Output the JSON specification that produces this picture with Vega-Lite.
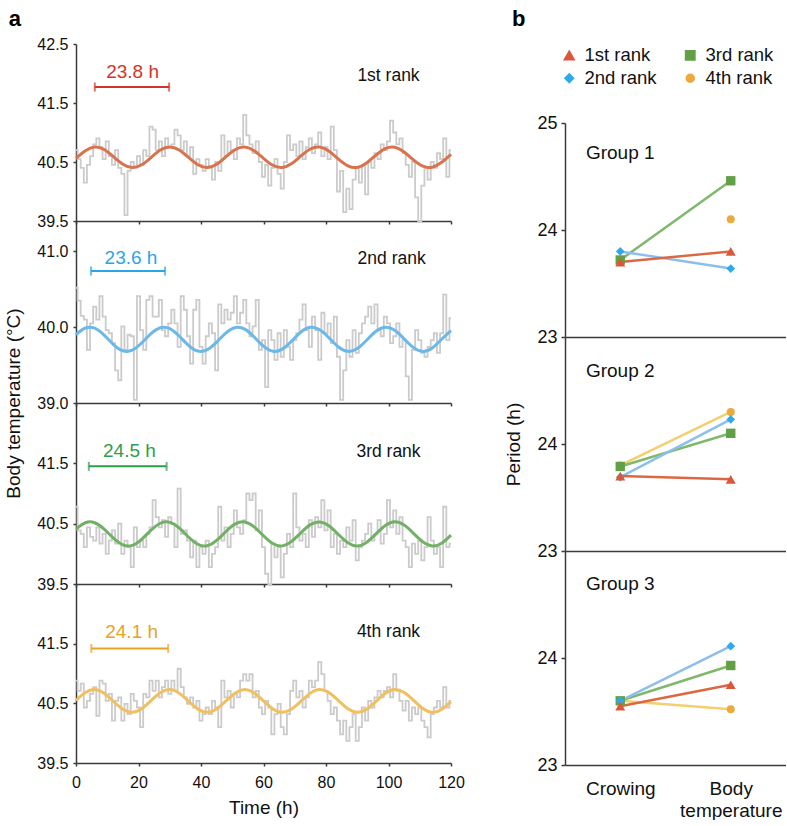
{
"$schema": "https://vega.github.io/schema/vega-lite/v6.json",
"background": "white",
"padding": {"left": 4, "top": 8, "right": 0, "bottom": 0},
"config": {
 "font": "Liberation Sans",
 "view": {"stroke": null},
 "axis": {"labelFont": "Liberation Sans", "titleFont": "Liberation Sans", "labelColor": "#111", "titleColor": "#111", "domainColor": "#3a3a3a", "tickColor": "#3a3a3a", "domainWidth": 1.5, "tickWidth": 1.5, "grid": false, "titleFontWeight": "normal", "labelFontSize": 16, "titleFontSize": 19, "labelOverlap": false},
 "title": {"font": "Liberation Sans", "color": "#000"}
},
"datasets": {
 "g1": [{"t":0,"v":40.7},{"t":1,"v":40.55},{"t":2,"v":40.4},{"t":3,"v":40.15},{"t":4,"v":40.45},{"t":5,"v":40.6},{"t":6,"v":40.8},{"t":7,"v":40.9},{"t":8,"v":40.75},{"t":9,"v":40.55},{"t":10,"v":40.85},{"t":11,"v":40.6},{"t":12,"v":40.45},{"t":13,"v":40.7},{"t":14,"v":40.4},{"t":15,"v":40.3},{"t":16,"v":39.6},{"t":17,"v":40.35},{"t":18,"v":40.5},{"t":19,"v":40.4},{"t":20,"v":40.6},{"t":21,"v":40.45},{"t":22,"v":40.7},{"t":23,"v":40.6},{"t":24,"v":41.1},{"t":25,"v":41.05},{"t":26,"v":40.7},{"t":27,"v":40.85},{"t":28,"v":40.6},{"t":29,"v":40.9},{"t":30,"v":40.75},{"t":31,"v":40.8},{"t":32,"v":41.05},{"t":33,"v":40.95},{"t":34,"v":40.7},{"t":35,"v":40.85},{"t":36,"v":40.6},{"t":37,"v":40.75},{"t":38,"v":40.3},{"t":39,"v":40.55},{"t":40,"v":40.45},{"t":41,"v":40.35},{"t":42,"v":40.55},{"t":43,"v":40.4},{"t":44,"v":40.2},{"t":45,"v":40.5},{"t":46,"v":40.35},{"t":47,"v":40.95},{"t":48,"v":40.6},{"t":49,"v":40.85},{"t":50,"v":40.7},{"t":51,"v":40.55},{"t":52,"v":40.9},{"t":53,"v":40.8},{"t":54,"v":41.3},{"t":55,"v":40.95},{"t":56,"v":40.8},{"t":57,"v":40.65},{"t":58,"v":40.85},{"t":59,"v":40.5},{"t":60,"v":40.25},{"t":61,"v":40.45},{"t":62,"v":40.1},{"t":63,"v":40.4},{"t":64,"v":40.55},{"t":65,"v":40.3},{"t":66,"v":40.05},{"t":67,"v":40.5},{"t":68,"v":40.95},{"t":69,"v":40.7},{"t":70,"v":40.8},{"t":71,"v":40.6},{"t":72,"v":40.85},{"t":73,"v":40.55},{"t":74,"v":40.75},{"t":75,"v":40.9},{"t":76,"v":40.65},{"t":77,"v":40.8},{"t":78,"v":41.0},{"t":79,"v":40.6},{"t":80,"v":40.75},{"t":81,"v":40.55},{"t":82,"v":41.1},{"t":83,"v":40.7},{"t":84,"v":40.0},{"t":85,"v":40.35},{"t":86,"v":39.65},{"t":87,"v":40.05},{"t":88,"v":39.7},{"t":89,"v":40.2},{"t":90,"v":40.4},{"t":91,"v":40.15},{"t":92,"v":40.45},{"t":93,"v":39.95},{"t":94,"v":40.5},{"t":95,"v":40.4},{"t":96,"v":40.65},{"t":97,"v":40.55},{"t":98,"v":40.8},{"t":99,"v":40.7},{"t":100,"v":40.85},{"t":101,"v":41.2},{"t":102,"v":41.0},{"t":103,"v":40.8},{"t":104,"v":40.9},{"t":105,"v":40.65},{"t":106,"v":40.45},{"t":107,"v":40.25},{"t":108,"v":40.5},{"t":109,"v":39.9},{"t":110,"v":39.5},{"t":111,"v":40.1},{"t":112,"v":40.4},{"t":113,"v":40.2},{"t":114,"v":40.5},{"t":115,"v":40.4},{"t":116,"v":40.65},{"t":117,"v":40.55},{"t":118,"v":40.9},{"t":119,"v":40.25},{"t":120,"v":40.7}],
 "g2": [{"t":0,"v":40.52},{"t":1,"v":40.35},{"t":2,"v":40.15},{"t":3,"v":40.1},{"t":4,"v":39.7},{"t":5,"v":40.05},{"t":6,"v":40.27},{"t":7,"v":40.1},{"t":8,"v":40.41},{"t":9,"v":40.14},{"t":10,"v":39.96},{"t":11,"v":39.92},{"t":12,"v":39.79},{"t":13,"v":39.43},{"t":14,"v":39.3},{"t":15,"v":40.01},{"t":16,"v":39.7},{"t":17,"v":39.9},{"t":18,"v":39.88},{"t":19,"v":39.04},{"t":20,"v":40.41},{"t":21,"v":39.96},{"t":22,"v":39.7},{"t":23,"v":40.36},{"t":24,"v":40.41},{"t":25,"v":40.14},{"t":26,"v":40.14},{"t":27,"v":40.36},{"t":28,"v":39.96},{"t":29,"v":39.88},{"t":30,"v":40.05},{"t":31,"v":40.23},{"t":32,"v":40.05},{"t":33,"v":39.74},{"t":34,"v":40.41},{"t":35,"v":40.23},{"t":36,"v":39.88},{"t":37,"v":39.52},{"t":38,"v":40.23},{"t":39,"v":40.36},{"t":40,"v":39.74},{"t":41,"v":39.52},{"t":42,"v":39.88},{"t":43,"v":40.05},{"t":44,"v":39.92},{"t":45,"v":39.43},{"t":46,"v":40.3},{"t":47,"v":40.05},{"t":48,"v":40.23},{"t":49,"v":40.1},{"t":50,"v":40.19},{"t":51,"v":40.41},{"t":52,"v":40.05},{"t":53,"v":40.19},{"t":54,"v":40.36},{"t":55,"v":40.05},{"t":56,"v":39.88},{"t":57,"v":40.01},{"t":58,"v":40.36},{"t":59,"v":39.7},{"t":60,"v":39.83},{"t":61,"v":39.21},{"t":62,"v":39.96},{"t":63,"v":39.83},{"t":64,"v":39.57},{"t":65,"v":39.92},{"t":66,"v":39.61},{"t":67,"v":39.96},{"t":68,"v":39.74},{"t":69,"v":39.57},{"t":70,"v":39.83},{"t":71,"v":39.92},{"t":72,"v":40.1},{"t":73,"v":40.3},{"t":74,"v":39.96},{"t":75,"v":39.74},{"t":76,"v":40.14},{"t":77,"v":39.96},{"t":78,"v":39.57},{"t":79,"v":40.19},{"t":80,"v":39.92},{"t":81,"v":40.05},{"t":82,"v":39.79},{"t":83,"v":40.14},{"t":84,"v":39.61},{"t":85,"v":39.04},{"t":86,"v":39.43},{"t":87,"v":39.83},{"t":88,"v":39.61},{"t":89,"v":39.96},{"t":90,"v":39.66},{"t":91,"v":39.92},{"t":92,"v":40.05},{"t":93,"v":40.14},{"t":94,"v":40.27},{"t":95,"v":40.05},{"t":96,"v":40.3},{"t":97,"v":39.96},{"t":98,"v":39.88},{"t":99,"v":40.14},{"t":100,"v":40.05},{"t":101,"v":39.79},{"t":102,"v":39.88},{"t":103,"v":40.05},{"t":104,"v":39.74},{"t":105,"v":39.83},{"t":106,"v":39.35},{"t":107,"v":39.04},{"t":108,"v":39.7},{"t":109,"v":39.96},{"t":110,"v":39.83},{"t":111,"v":39.66},{"t":112,"v":39.61},{"t":113,"v":39.74},{"t":114,"v":39.83},{"t":115,"v":39.92},{"t":116,"v":39.66},{"t":117,"v":39.92},{"t":118,"v":40.43},{"t":119,"v":39.83},{"t":120,"v":40.12}],
 "g3": [{"t":0,"v":40.78},{"t":1,"v":40.39},{"t":2,"v":40.33},{"t":3,"v":40.11},{"t":4,"v":40.44},{"t":5,"v":40.28},{"t":6,"v":40.22},{"t":7,"v":40.44},{"t":8,"v":40.17},{"t":9,"v":40.33},{"t":10,"v":40.0},{"t":11,"v":40.22},{"t":12,"v":40.39},{"t":13,"v":40.17},{"t":14,"v":40.5},{"t":15,"v":40.0},{"t":16,"v":40.22},{"t":17,"v":40.11},{"t":18,"v":39.78},{"t":19,"v":40.44},{"t":20,"v":40.11},{"t":21,"v":40.22},{"t":22,"v":40.11},{"t":23,"v":40.33},{"t":24,"v":40.44},{"t":25,"v":40.89},{"t":26,"v":40.61},{"t":27,"v":40.44},{"t":28,"v":40.56},{"t":29,"v":40.28},{"t":30,"v":40.61},{"t":31,"v":40.5},{"t":32,"v":40.11},{"t":33,"v":41.08},{"t":34,"v":40.33},{"t":35,"v":40.39},{"t":36,"v":40.22},{"t":37,"v":39.94},{"t":38,"v":40.22},{"t":39,"v":39.78},{"t":40,"v":40.11},{"t":41,"v":40.0},{"t":42,"v":40.22},{"t":43,"v":39.78},{"t":44,"v":40.0},{"t":45,"v":40.11},{"t":46,"v":40.78},{"t":47,"v":40.22},{"t":48,"v":40.44},{"t":49,"v":40.11},{"t":50,"v":40.33},{"t":51,"v":40.72},{"t":52,"v":40.44},{"t":53,"v":40.33},{"t":54,"v":40.56},{"t":55,"v":41.0},{"t":56,"v":40.89},{"t":57,"v":41.0},{"t":58,"v":40.39},{"t":59,"v":40.72},{"t":60,"v":40.11},{"t":61,"v":39.67},{"t":62,"v":39.5},{"t":63,"v":40.17},{"t":64,"v":39.94},{"t":65,"v":40.11},{"t":66,"v":39.61},{"t":67,"v":40.0},{"t":68,"v":40.33},{"t":69,"v":40.11},{"t":70,"v":41.0},{"t":71,"v":40.44},{"t":72,"v":40.22},{"t":73,"v":40.33},{"t":74,"v":40.11},{"t":75,"v":40.56},{"t":76,"v":40.28},{"t":77,"v":40.61},{"t":78,"v":40.44},{"t":79,"v":40.89},{"t":80,"v":40.39},{"t":81,"v":40.72},{"t":82,"v":40.11},{"t":83,"v":40.33},{"t":84,"v":40.0},{"t":85,"v":40.22},{"t":86,"v":40.11},{"t":87,"v":40.44},{"t":88,"v":40.22},{"t":89,"v":40.56},{"t":90,"v":39.89},{"t":91,"v":40.11},{"t":92,"v":40.22},{"t":93,"v":40.33},{"t":94,"v":40.5},{"t":95,"v":40.22},{"t":96,"v":40.33},{"t":97,"v":40.56},{"t":98,"v":40.17},{"t":99,"v":40.33},{"t":100,"v":40.89},{"t":101,"v":40.44},{"t":102,"v":40.72},{"t":103,"v":40.33},{"t":104,"v":40.61},{"t":105,"v":40.22},{"t":106,"v":40.11},{"t":107,"v":39.78},{"t":108,"v":40.17},{"t":109,"v":40.0},{"t":110,"v":40.22},{"t":111,"v":39.89},{"t":112,"v":40.11},{"t":113,"v":40.61},{"t":114,"v":40.22},{"t":115,"v":40.0},{"t":116,"v":40.11},{"t":117,"v":39.78},{"t":118,"v":40.78},{"t":119,"v":40.11},{"t":120,"v":40.17}],
 "g4": [{"t":0,"v":40.88},{"t":1,"v":40.71},{"t":2,"v":40.83},{"t":3,"v":40.43},{"t":4,"v":40.54},{"t":5,"v":40.66},{"t":6,"v":40.77},{"t":7,"v":40.29},{"t":8,"v":40.88},{"t":9,"v":40.83},{"t":10,"v":40.54},{"t":11,"v":40.66},{"t":12,"v":40.21},{"t":13,"v":40.54},{"t":14,"v":40.6},{"t":15,"v":40.21},{"t":16,"v":40.49},{"t":17,"v":40.32},{"t":18,"v":40.66},{"t":19,"v":40.54},{"t":20,"v":40.43},{"t":21,"v":40.1},{"t":22,"v":40.66},{"t":23,"v":40.6},{"t":24,"v":40.88},{"t":25,"v":40.71},{"t":26,"v":40.88},{"t":27,"v":40.6},{"t":28,"v":40.77},{"t":29,"v":40.88},{"t":30,"v":40.66},{"t":31,"v":40.88},{"t":32,"v":40.71},{"t":33,"v":41.08},{"t":34,"v":40.77},{"t":35,"v":40.6},{"t":36,"v":40.49},{"t":37,"v":40.6},{"t":38,"v":40.43},{"t":39,"v":40.54},{"t":40,"v":40.21},{"t":41,"v":40.32},{"t":42,"v":40.43},{"t":43,"v":40.32},{"t":44,"v":40.54},{"t":45,"v":40.43},{"t":46,"v":40.1},{"t":47,"v":40.88},{"t":48,"v":40.6},{"t":49,"v":40.71},{"t":50,"v":40.43},{"t":51,"v":40.66},{"t":52,"v":40.6},{"t":53,"v":40.88},{"t":54,"v":40.99},{"t":55,"v":40.88},{"t":56,"v":40.99},{"t":57,"v":40.6},{"t":58,"v":40.71},{"t":59,"v":40.43},{"t":60,"v":40.32},{"t":61,"v":40.54},{"t":62,"v":40.43},{"t":63,"v":39.98},{"t":64,"v":40.32},{"t":65,"v":40.49},{"t":66,"v":40.1},{"t":67,"v":39.98},{"t":68,"v":40.32},{"t":69,"v":40.71},{"t":70,"v":40.88},{"t":71,"v":40.6},{"t":72,"v":40.71},{"t":73,"v":40.43},{"t":74,"v":40.6},{"t":75,"v":40.88},{"t":76,"v":40.77},{"t":77,"v":40.88},{"t":78,"v":41.19},{"t":79,"v":40.99},{"t":80,"v":40.71},{"t":81,"v":40.54},{"t":82,"v":40.32},{"t":83,"v":40.43},{"t":84,"v":40.21},{"t":85,"v":39.98},{"t":86,"v":40.21},{"t":87,"v":39.87},{"t":88,"v":40.1},{"t":89,"v":40.32},{"t":90,"v":39.87},{"t":91,"v":40.1},{"t":92,"v":40.43},{"t":93,"v":40.21},{"t":94,"v":40.54},{"t":95,"v":40.43},{"t":96,"v":40.6},{"t":97,"v":40.71},{"t":98,"v":40.6},{"t":99,"v":40.71},{"t":100,"v":40.77},{"t":101,"v":40.6},{"t":102,"v":40.99},{"t":103,"v":40.71},{"t":104,"v":40.54},{"t":105,"v":40.38},{"t":106,"v":40.54},{"t":107,"v":40.21},{"t":108,"v":40.43},{"t":109,"v":40.32},{"t":110,"v":40.43},{"t":111,"v":40.21},{"t":112,"v":40.1},{"t":113,"v":39.93},{"t":114,"v":40.32},{"t":115,"v":40.43},{"t":116,"v":40.54},{"t":117,"v":40.43},{"t":118,"v":40.77},{"t":119,"v":40.43},{"t":120,"v":40.54}],
 "s1": [{"t":0,"v":40.563},{"t":3,"v":40.692},{"t":6,"v":40.754},{"t":9,"v":40.712},{"t":12,"v":40.59},{"t":15,"v":40.463},{"t":18,"v":40.405},{"t":21,"v":40.453},{"t":24,"v":40.576},{"t":27,"v":40.702},{"t":30,"v":40.755},{"t":33,"v":40.703},{"t":36,"v":40.577},{"t":39,"v":40.453},{"t":42,"v":40.405},{"t":45,"v":40.462},{"t":48,"v":40.59},{"t":51,"v":40.712},{"t":54,"v":40.754},{"t":57,"v":40.692},{"t":60,"v":40.563},{"t":63,"v":40.444},{"t":66,"v":40.406},{"t":69,"v":40.473},{"t":72,"v":40.604},{"t":75,"v":40.721},{"t":78,"v":40.753},{"t":81,"v":40.681},{"t":84,"v":40.549},{"t":87,"v":40.435},{"t":90,"v":40.408},{"t":93,"v":40.484},{"t":96,"v":40.618},{"t":99,"v":40.728},{"t":102,"v":40.75},{"t":105,"v":40.67},{"t":108,"v":40.536},{"t":111,"v":40.428},{"t":114,"v":40.412},{"t":117,"v":40.496},{"t":120,"v":40.631}],
 "s2": [{"t":0,"v":39.903},{"t":3,"v":39.989},{"t":6,"v":39.986},{"t":9,"v":39.895},{"t":12,"v":39.771},{"t":15,"v":39.689},{"t":18,"v":39.697},{"t":21,"v":39.791},{"t":24,"v":39.914},{"t":27,"v":39.993},{"t":30,"v":39.98},{"t":33,"v":39.883},{"t":36,"v":39.76},{"t":39,"v":39.685},{"t":42,"v":39.703},{"t":45,"v":39.803},{"t":48,"v":39.925},{"t":51,"v":39.996},{"t":54,"v":39.974},{"t":57,"v":39.871},{"t":60,"v":39.749},{"t":63,"v":39.682},{"t":66,"v":39.71},{"t":69,"v":39.816},{"t":72,"v":39.936},{"t":75,"v":39.999},{"t":78,"v":39.966},{"t":81,"v":39.858},{"t":84,"v":39.739},{"t":87,"v":39.681},{"t":90,"v":39.718},{"t":93,"v":39.828},{"t":96,"v":39.946},{"t":99,"v":40.0},{"t":102,"v":39.958},{"t":105,"v":39.846},{"t":108,"v":39.73},{"t":111,"v":39.68},{"t":114,"v":39.726},{"t":117,"v":39.841},{"t":120,"v":39.955}],
 "s3": [{"t":0,"v":40.41},{"t":3,"v":40.515},{"t":6,"v":40.515},{"t":9,"v":40.41},{"t":12,"v":40.26},{"t":15,"v":40.149},{"t":18,"v":40.141},{"t":21,"v":40.241},{"t":24,"v":40.391},{"t":27,"v":40.507},{"t":30,"v":40.522},{"t":33,"v":40.429},{"t":36,"v":40.279},{"t":39,"v":40.159},{"t":42,"v":40.135},{"t":45,"v":40.222},{"t":48,"v":40.371},{"t":51,"v":40.496},{"t":54,"v":40.527},{"t":57,"v":40.446},{"t":60,"v":40.299},{"t":63,"v":40.17},{"t":66,"v":40.132},{"t":69,"v":40.206},{"t":72,"v":40.35},{"t":75,"v":40.484},{"t":78,"v":40.529},{"t":81,"v":40.462},{"t":84,"v":40.32},{"t":87,"v":40.184},{"t":90,"v":40.13},{"t":93,"v":40.19},{"t":96,"v":40.33},{"t":99,"v":40.469},{"t":102,"v":40.53},{"t":105,"v":40.477},{"t":108,"v":40.34},{"t":111,"v":40.198},{"t":114,"v":40.131},{"t":117,"v":40.176},{"t":120,"v":40.309}],
 "s4": [{"t":0,"v":40.551},{"t":3,"v":40.682},{"t":6,"v":40.73},{"t":9,"v":40.668},{"t":12,"v":40.531},{"t":15,"v":40.4},{"t":18,"v":40.35},{"t":21,"v":40.411},{"t":24,"v":40.546},{"t":27,"v":40.678},{"t":30,"v":40.73},{"t":33,"v":40.671},{"t":36,"v":40.536},{"t":39,"v":40.403},{"t":42,"v":40.35},{"t":45,"v":40.407},{"t":48,"v":40.541},{"t":51,"v":40.675},{"t":54,"v":40.73},{"t":57,"v":40.675},{"t":60,"v":40.541},{"t":63,"v":40.407},{"t":66,"v":40.35},{"t":69,"v":40.404},{"t":72,"v":40.537},{"t":75,"v":40.671},{"t":78,"v":40.73},{"t":81,"v":40.678},{"t":84,"v":40.546},{"t":87,"v":40.41},{"t":90,"v":40.35},{"t":93,"v":40.4},{"t":96,"v":40.532},{"t":99,"v":40.668},{"t":102,"v":40.73},{"t":105,"v":40.681},{"t":108,"v":40.551},{"t":111,"v":40.414},{"t":114,"v":40.35},{"t":117,"v":40.397},{"t":120,"v":40.527}],
 "periods": [
  {"g":"Group 1","rank":"4th rank","m":"Body temperature","p":24.10},
  {"g":"Group 1","rank":"3rd rank","m":"Crowing","p":23.72},{"g":"Group 1","rank":"3rd rank","m":"Body temperature","p":24.46},
  {"g":"Group 1","rank":"2nd rank","m":"Crowing","p":23.80},{"g":"Group 1","rank":"2nd rank","m":"Body temperature","p":23.64},
  {"g":"Group 1","rank":"1st rank","m":"Crowing","p":23.70},{"g":"Group 1","rank":"1st rank","m":"Body temperature","p":23.80},
  {"g":"Group 2","rank":"4th rank","m":"Crowing","p":23.80},{"g":"Group 2","rank":"4th rank","m":"Body temperature","p":24.30},
  {"g":"Group 2","rank":"3rd rank","m":"Crowing","p":23.79},{"g":"Group 2","rank":"3rd rank","m":"Body temperature","p":24.10},
  {"g":"Group 2","rank":"2nd rank","m":"Crowing","p":23.69},{"g":"Group 2","rank":"2nd rank","m":"Body temperature","p":24.23},
  {"g":"Group 2","rank":"1st rank","m":"Crowing","p":23.70},{"g":"Group 2","rank":"1st rank","m":"Body temperature","p":23.67},
  {"g":"Group 3","rank":"4th rank","m":"Crowing","p":23.60},{"g":"Group 3","rank":"4th rank","m":"Body temperature","p":23.52},
  {"g":"Group 3","rank":"3rd rank","m":"Crowing","p":23.60},{"g":"Group 3","rank":"3rd rank","m":"Body temperature","p":23.93},
  {"g":"Group 3","rank":"2nd rank","m":"Crowing","p":23.60},{"g":"Group 3","rank":"2nd rank","m":"Body temperature","p":24.11},
  {"g":"Group 3","rank":"1st rank","m":"Crowing","p":23.55},{"g":"Group 3","rank":"1st rank","m":"Body temperature","p":23.75}
 ]
},
"spacing": 39,
"hconcat": [
 {
  "title": {"text": "a", "anchor": "start", "frame": "bounds", "fontSize": 22, "fontWeight": "bold", "offset": 5, "dx": 4},
  "bounds": "flush",
  "spacing": 0,
  "vconcat": [
   {
    "width": 375, "height": 177,
    "layer": [
     {"data": {"name": "g1"}, "mark": {"type": "line", "color": "#cbcbcb", "strokeWidth": 1.8, "interpolate": "step"},
      "encoding": {
       "x": {"field": "t", "type": "quantitative", "scale": {"domain": [0, 120], "nice": false}, "axis": {"values": [0, 20, 40, 60, 80, 100, 120], "labels": false, "tickSize": 3, "title": null}},
       "y": {"field": "v", "type": "quantitative", "scale": {"domain": [39.5, 42.5], "nice": false, "zero": false}, "axis": {"values": [39.5, 40.5, 41.5, 42.5], "format": ".1f", "tickSize": 3, "labelPadding": 5, "title": null}}}},
     {"data": {"name": "s1"}, "mark": {"type": "line", "color": "#d9734e", "strokeWidth": 3, "interpolate": "natural"},
      "encoding": {"x": {"field": "t", "type": "quantitative"}, "y": {"field": "v", "type": "quantitative"}}},
     {"data": {"values": [{"t": 6.0, "t2": 29.8, "v": 41.77}]}, "mark": {"type": "errorbar", "ticks": true, "color": "#d2342a", "thickness": 2, "size": 9},
      "encoding": {"x": {"field": "t", "type": "quantitative", "title": null}, "x2": {"field": "t2"}, "y": {"field": "v", "type": "quantitative", "title": null}}},
     {"data": {"values": [{"t": 18.1, "v": 42.02, "label": "23.8 h"}]}, "mark": {"type": "text", "color": "#d2342a", "fontSize": 19, "align": "center", "baseline": "middle"},
      "encoding": {"x": {"field": "t", "type": "quantitative"}, "y": {"field": "v", "type": "quantitative"}, "text": {"field": "label"}}},
     {"data": {"values": [{"t": 100, "v": 41.96, "label": "1st rank"}]}, "mark": {"type": "text", "color": "#111", "fontSize": 17.5, "align": "center", "baseline": "middle"},
      "encoding": {"x": {"field": "t", "type": "quantitative"}, "y": {"field": "v", "type": "quantitative"}, "text": {"field": "label"}}}
    ]
   },
   {
    "width": 375, "height": 182,
    "layer": [
     {"data": {"name": "g2"}, "mark": {"type": "line", "color": "#cbcbcb", "strokeWidth": 1.8, "interpolate": "step"},
      "encoding": {
       "x": {"field": "t", "type": "quantitative", "scale": {"domain": [0, 120], "nice": false}, "axis": {"values": [0, 20, 40, 60, 80, 100, 120], "labels": false, "tickSize": 3, "title": null}},
       "y": {"field": "v", "type": "quantitative", "scale": {"domain": [39.0, 41.4], "nice": false, "zero": false}, "axis": {"values": [39, 40, 41], "format": ".1f", "tickSize": 3, "labelPadding": 5, "title": "Body temperature (°C)", "titleY": 182, "titlePadding": 13}}}},
     {"data": {"name": "s2"}, "mark": {"type": "line", "color": "#6cb8e8", "strokeWidth": 3, "interpolate": "natural"},
      "encoding": {"x": {"field": "t", "type": "quantitative"}, "y": {"field": "v", "type": "quantitative"}}},
     {"data": {"values": [{"t": 4.8, "t2": 28.5, "v": 40.74}]}, "mark": {"type": "errorbar", "ticks": true, "color": "#2aa6e6", "thickness": 2, "size": 9},
      "encoding": {"x": {"field": "t", "type": "quantitative", "title": null}, "x2": {"field": "t2"}, "y": {"field": "v", "type": "quantitative", "title": "Body temperature (°C)"}}},
     {"data": {"values": [{"t": 17.6, "v": 40.91, "label": "23.6 h"}]}, "mark": {"type": "text", "color": "#2aa6e6", "fontSize": 19, "align": "center", "baseline": "middle"},
      "encoding": {"x": {"field": "t", "type": "quantitative"}, "y": {"field": "v", "type": "quantitative"}, "text": {"field": "label"}}},
     {"data": {"values": [{"t": 101, "v": 40.9, "label": "2nd rank"}]}, "mark": {"type": "text", "color": "#111", "fontSize": 17.5, "align": "center", "baseline": "middle"},
      "encoding": {"x": {"field": "t", "type": "quantitative"}, "y": {"field": "v", "type": "quantitative"}, "text": {"field": "label"}}}
    ]
   },
   {
    "width": 375, "height": 181,
    "layer": [
     {"data": {"name": "g3"}, "mark": {"type": "line", "color": "#cbcbcb", "strokeWidth": 1.8, "interpolate": "step"},
      "encoding": {
       "x": {"field": "t", "type": "quantitative", "scale": {"domain": [0, 120], "nice": false}, "axis": {"values": [0, 20, 40, 60, 80, 100, 120], "labels": false, "tickSize": 3, "title": null}},
       "y": {"field": "v", "type": "quantitative", "scale": {"domain": [39.5, 42.5], "nice": false, "zero": false}, "axis": {"values": [39.5, 40.5, 41.5], "format": ".1f", "tickSize": 3, "labelPadding": 5, "title": null}}}},
     {"data": {"name": "s3"}, "mark": {"type": "line", "color": "#72b066", "strokeWidth": 3, "interpolate": "natural"},
      "encoding": {"x": {"field": "t", "type": "quantitative"}, "y": {"field": "v", "type": "quantitative"}}},
     {"data": {"values": [{"t": 4.1, "t2": 29.0, "v": 41.45}]}, "mark": {"type": "errorbar", "ticks": true, "color": "#2f9e4a", "thickness": 2, "size": 9},
      "encoding": {"x": {"field": "t", "type": "quantitative", "title": null}, "x2": {"field": "t2"}, "y": {"field": "v", "type": "quantitative", "title": null}}},
     {"data": {"values": [{"t": 17.1, "v": 41.7, "label": "24.5 h"}]}, "mark": {"type": "text", "color": "#2f9e4a", "fontSize": 19, "align": "center", "baseline": "middle"},
      "encoding": {"x": {"field": "t", "type": "quantitative"}, "y": {"field": "v", "type": "quantitative"}, "text": {"field": "label"}}},
     {"data": {"values": [{"t": 100, "v": 41.69, "label": "3rd rank"}]}, "mark": {"type": "text", "color": "#111", "fontSize": 17.5, "align": "center", "baseline": "middle"},
      "encoding": {"x": {"field": "t", "type": "quantitative"}, "y": {"field": "v", "type": "quantitative"}, "text": {"field": "label"}}}
    ]
   },
   {
    "width": 375, "height": 179,
    "layer": [
     {"data": {"name": "g4"}, "mark": {"type": "line", "color": "#cbcbcb", "strokeWidth": 1.8, "interpolate": "step"},
      "encoding": {
       "x": {"field": "t", "type": "quantitative", "scale": {"domain": [0, 120], "nice": false}, "axis": {"values": [0, 20, 40, 60, 80, 100, 120], "tickSize": 3, "labelPadding": 8, "labelFlush": false, "title": "Time (h)", "titlePadding": 8}},
       "y": {"field": "v", "type": "quantitative", "scale": {"domain": [39.5, 42.5], "nice": false, "zero": false}, "axis": {"values": [39.5, 40.5, 41.5], "format": ".1f", "tickSize": 3, "labelPadding": 5, "title": null}}}},
     {"data": {"name": "s4"}, "mark": {"type": "line", "color": "#f0c060", "strokeWidth": 3, "interpolate": "natural"},
      "encoding": {"x": {"field": "t", "type": "quantitative", "title": "Time (h)"}, "y": {"field": "v", "type": "quantitative"}}},
     {"data": {"values": [{"t": 4.9, "t2": 29.5, "v": 41.42}]}, "mark": {"type": "errorbar", "ticks": true, "color": "#e8a324", "thickness": 2, "size": 9},
      "encoding": {"x": {"field": "t", "type": "quantitative", "title": "Time (h)"}, "x2": {"field": "t2"}, "y": {"field": "v", "type": "quantitative", "title": null}}},
     {"data": {"values": [{"t": 17.8, "v": 41.7, "label": "24.1 h"}]}, "mark": {"type": "text", "color": "#e8a324", "fontSize": 19, "align": "center", "baseline": "middle"},
      "encoding": {"x": {"field": "t", "type": "quantitative", "title": "Time (h)"}, "y": {"field": "v", "type": "quantitative"}, "text": {"field": "label"}}},
     {"data": {"values": [{"t": 100, "v": 41.69, "label": "4th rank"}]}, "mark": {"type": "text", "color": "#111", "fontSize": 17.5, "align": "center", "baseline": "middle"},
      "encoding": {"x": {"field": "t", "type": "quantitative", "title": "Time (h)"}, "y": {"field": "v", "type": "quantitative"}, "text": {"field": "label"}}}
    ]
   }
  ]
 },
 {
  "title": {"text": "b", "anchor": "start", "frame": "bounds", "fontSize": 22, "fontWeight": "bold", "offset": 13, "dx": 7},
  "bounds": "flush",
  "spacing": 0,
  "vconcat": [
   {
    "width": 221, "height": 79,
    "data": {"name": "periods"},
    "mark": {"type": "point", "opacity": 0},
    "encoding": {
     "x": {"field": "m", "type": "nominal", "axis": null},
     "y": {"field": "p", "type": "quantitative", "axis": null},
     "color": {"field": "rank", "type": "nominal", "scale": {"domain": ["1st rank", "3rd rank", "2nd rank", "4th rank"], "range": ["#d9583b", "#62a046", "#2fa9ea", "#eaaa3c"]},
      "legend": {"orient": "none", "legendX": 484, "legendY": 2, "columns": 2, "direction": "horizontal", "columnPadding": 24, "rowPadding": 4, "symbolSize": 400, "labelFontSize": 18.5, "labelOffset": 6, "title": null, "labelColor": "#111",
       "encode": {"symbols": {"update": {
        "shape": {"signal": "datum.value == '1st rank' ? 'M-1,-0.1H1V0.1H-1ZM0,-0.45L0.5,0.4L-0.5,0.4Z' : datum.value == '2nd rank' ? 'M-1,-0.1H1V0.1H-1ZM0,-0.5L0.45,0L0,0.5L-0.45,0Z' : datum.value == '3rd rank' ? 'M-1,-0.1H1V0.1H-1ZM-0.38,-0.38H0.38V0.38H-0.38Z' : 'M-1,-0.1H1V0.1H-1ZM-0.4,0A0.4,0.4,0,1,1,0.4,0A0.4,0.4,0,1,1,-0.4,0Z'"},
        "size": {"value": 400},
        "fill": {"signal": "datum.value == '1st rank' ? '#d9583b' : datum.value == '2nd rank' ? '#2fa9ea' : datum.value == '3rd rank' ? '#62a046' : '#eaaa3c'"},
        "opacity": {"value": 1}}}}}}
    }
   },
   {
    "width": 221, "height": 214,
    "layer": [
     {"data": {"name": "periods"}, "transform": [{"filter": "datum.g == 'Group 1'"}], "mark": {"type": "line", "strokeWidth": 2.5},
      "encoding": {
       "x": {"field": "m", "type": "nominal", "scale": {"type": "point", "padding": 0.5, "domain": ["Crowing", "Body temperature"]}, "axis": {"labels": false, "ticks": false, "title": null}},
       "y": {"field": "p", "type": "quantitative", "scale": {"domain": [23, 25], "nice": false, "zero": false}, "axis": {"values": [23, 24, 25], "format": ".0f", "labelOverlap": false, "tickSize": 4, "labelPadding": 4, "labelFontSize": 18, "title": null}},
       "detail": {"field": "rank", "type": "nominal"},
       "stroke": {"field": "rank", "type": "nominal", "scale": {"domain": ["1st rank", "3rd rank", "2nd rank", "4th rank"], "range": ["#dc6843", "#80b86c", "#8cbfec", "#f3cf70"]}, "legend": null}}},
     {"data": {"name": "periods"}, "transform": [{"filter": "datum.g == 'Group 1'"}], "mark": {"type": "point", "filled": true, "opacity": 1},
      "encoding": {
       "x": {"field": "m", "type": "nominal"},
       "y": {"field": "p", "type": "quantitative"},
       "color": {"field": "rank", "type": "nominal"},
       "shape": {"field": "rank", "type": "nominal", "scale": {"domain": ["1st rank", "3rd rank", "2nd rank", "4th rank"], "range": ["triangle-up", "square", "diamond", "circle"]}, "legend": null},
       "size": {"field": "rank", "type": "nominal", "scale": {"domain": ["1st rank", "3rd rank", "2nd rank", "4th rank"], "range": [100, 64, 100, 55]}, "legend": null}}},
     {"data": {"values": [{"m": "Crowing", "p": 24.72, "label": "Group 1"}]}, "mark": {"type": "text", "fontSize": 19, "align": "center", "baseline": "middle", "color": "#111"},
      "encoding": {"x": {"field": "m", "type": "nominal"}, "y": {"field": "p", "type": "quantitative"}, "text": {"field": "label"}}}
    ]
   },
   {
    "width": 221, "height": 214,
    "layer": [
     {"data": {"name": "periods"}, "transform": [{"filter": "datum.g == 'Group 2'"}], "mark": {"type": "line", "strokeWidth": 2.5},
      "encoding": {
       "x": {"field": "m", "type": "nominal", "scale": {"type": "point", "padding": 0.5, "domain": ["Crowing", "Body temperature"]}, "axis": {"labels": false, "ticks": false, "title": null}},
       "y": {"field": "p", "type": "quantitative", "scale": {"domain": [23, 25], "nice": false, "zero": false}, "axis": {"values": [23, 24], "format": ".0f", "labelOverlap": false, "tickSize": 4, "labelPadding": 4, "labelFontSize": 18, "title": "Period (h)", "titlePadding": 13}},
       "detail": {"field": "rank", "type": "nominal"},
       "stroke": {"field": "rank", "type": "nominal", "legend": null}}},
     {"data": {"name": "periods"}, "transform": [{"filter": "datum.g == 'Group 2'"}], "mark": {"type": "point", "filled": true, "opacity": 1},
      "encoding": {
       "x": {"field": "m", "type": "nominal"},
       "y": {"field": "p", "type": "quantitative"},
       "color": {"field": "rank", "type": "nominal"},
       "shape": {"field": "rank", "type": "nominal", "legend": null},
       "size": {"field": "rank", "type": "nominal", "legend": null}}},
     {"data": {"values": [{"m": "Crowing", "p": 24.68, "label": "Group 2"}]}, "mark": {"type": "text", "fontSize": 19, "align": "center", "baseline": "middle", "color": "#111"},
      "encoding": {"x": {"field": "m", "type": "nominal"}, "y": {"field": "p", "type": "quantitative"}, "text": {"field": "label"}}}
    ]
   },
   {
    "width": 221, "height": 214,
    "layer": [
     {"data": {"name": "periods"}, "transform": [{"filter": "datum.g == 'Group 3'"}], "mark": {"type": "line", "strokeWidth": 2.5},
      "encoding": {
       "x": {"field": "m", "type": "nominal", "scale": {"type": "point", "padding": 0.5, "domain": ["Crowing", "Body temperature"]}, "axis": {"ticks": false, "title": null, "labelAngle": 0, "labelFontSize": 19, "labelPadding": 14, "labelLineHeight": 22, "labelExpr": "datum.value == 'Body temperature' ? ['Body', 'temperature'] : datum.label"}},
       "y": {"field": "p", "type": "quantitative", "scale": {"domain": [23, 25], "nice": false, "zero": false}, "axis": {"values": [23, 24], "format": ".0f", "labelOverlap": false, "tickSize": 4, "labelPadding": 4, "labelFontSize": 18, "title": null}},
       "detail": {"field": "rank", "type": "nominal"},
       "stroke": {"field": "rank", "type": "nominal", "legend": null}}},
     {"data": {"name": "periods"}, "transform": [{"filter": "datum.g == 'Group 3'"}], "mark": {"type": "point", "filled": true, "opacity": 1},
      "encoding": {
       "x": {"field": "m", "type": "nominal"},
       "y": {"field": "p", "type": "quantitative"},
       "color": {"field": "rank", "type": "nominal"},
       "shape": {"field": "rank", "type": "nominal", "legend": null},
       "size": {"field": "rank", "type": "nominal", "legend": null}}},
     {"data": {"values": [{"m": "Crowing", "p": 24.69, "label": "Group 3"}]}, "mark": {"type": "text", "fontSize": 19, "align": "center", "baseline": "middle", "color": "#111"},
      "encoding": {"x": {"field": "m", "type": "nominal"}, "y": {"field": "p", "type": "quantitative"}, "text": {"field": "label"}}}
    ]
   }
  ]
 }
]
}
